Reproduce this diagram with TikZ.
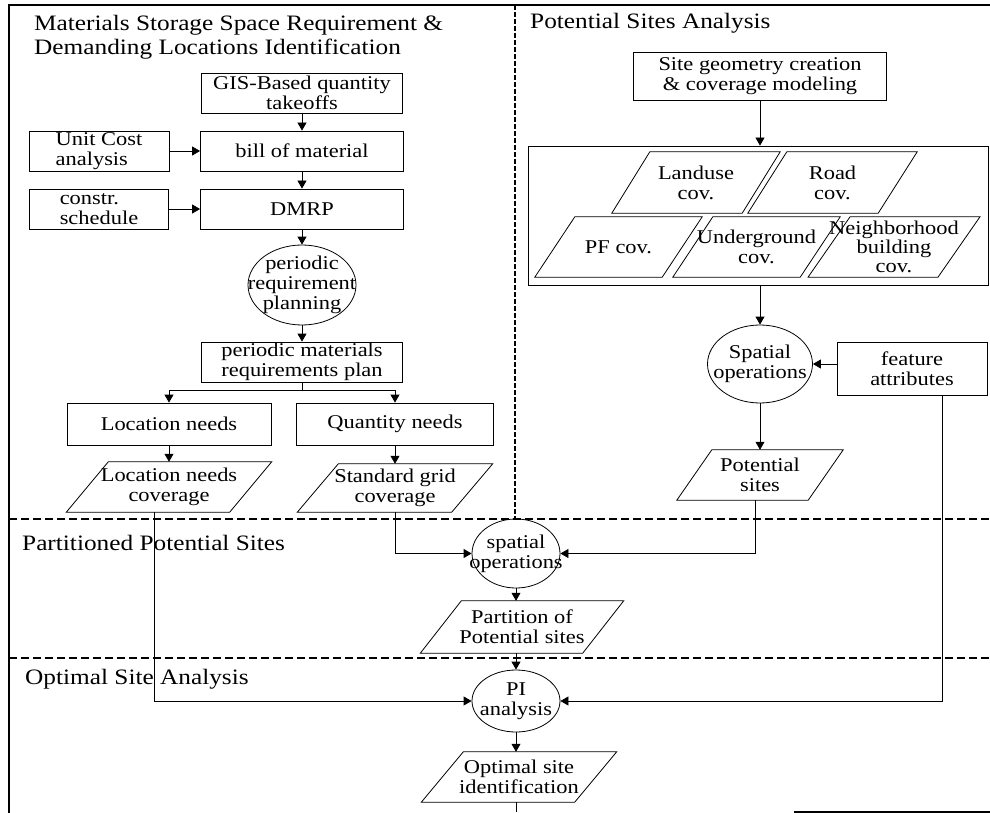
\documentclass[tikz,border=0pt]{standalone}
\usepackage{fontspec}
\setmainfont{Liberation Serif}[FakeStretch=1.15]
\usetikzlibrary{arrows.meta,shapes.geometric,calc}

% parallelogram outline around a (borderless) rectangular node; #2 = slant
\newcommand\slantframe[2]{%
  \draw[line width=0.8pt] ([xshift=#2/2]#1.north west) -- ([xshift=#2/2]#1.north east)
    -- ([xshift=-#2/2]#1.south east) -- ([xshift=-#2/2]#1.south west) -- cycle;}

\begin{document}
\begin{tikzpicture}[x=1pt,y=-1pt,
  every node/.style={font=\fontsize{19.5}{20}\selectfont, inner sep=0pt, align=center},
  box/.style={draw, line width=0.8pt, rectangle},
  oval/.style={draw, line width=0.8pt, ellipse},
  slant/.style={rectangle},
  title/.style={font=\fontsize{22}{24}\selectfont, align=left},
  arr/.style={line width=0.8pt, -{Triangle[width=9pt,length=8pt]}},
  link/.style={line width=0.8pt},
  divider/.style={line width=1.2pt, dash pattern=on 8pt off 4pt},
]
\useasboundingbox (0,0) rectangle (990,813);

% frame and section dividers
\draw[line width=1.5pt] (9,813) -- (9,5) -- (990,5);
\draw[line width=1.2pt] (794,812) -- (990,812);
\draw[divider] (9,519) -- (990,519);
\draw[divider] (9,658) -- (990,658);
\draw[line width=1.2pt, dash pattern=on 5pt off 2pt] (515,5) -- (515,519);

% section titles
\node[title, anchor=north west] (t1) at (34,15) {Materials Storage Space Requirement \&\\Demanding Locations Identification};
\node[title, anchor=base west] (t2) at (530,29) {Potential Sites Analysis};
\node[title, anchor=base west] (t3) at (22,550) {Partitioned Potential Sites};
\node[title, anchor=base west] (t4) at (25,684) {Optimal Site Analysis};

% requirement planning chain
\node[box, minimum width=201, minimum height=40] (gis) at (302,93) {GIS-Based quantity\\takeoffs};
\node[box, minimum width=140, minimum height=40, align=left] (ucost) at (99,151) {Unit Cost\\analysis};
\node[box, minimum width=203, minimum height=40] (bom) at (302,151) {bill of material};
\node[box, minimum width=139, minimum height=40, align=left] (sched) at (99,209) {constr.\\schedule};
\node[box, minimum width=203, minimum height=40] (dmrp) at (302,209) {DMRP};
\node[oval, minimum width=108, minimum height=80,
      label={[align=center]center:periodic\\requirement\\planning}] (prp) at (302,285) {};
\node[box, minimum width=201, minimum height=40] (pmrp) at (302,362) {periodic materials\\requirements plan};
\node[box, minimum width=204, minimum height=42] (locn) at (169,424) {Location needs};
\node[box, minimum width=197, minimum height=42] (qtyn) at (395,424) {Quantity needs};
\node[slant, minimum width=163, minimum height=50] (loccov) at (169,487) {Location needs\\coverage};
\slantframe{loccov}{42}
\node[slant, minimum width=154, minimum height=48] (stdcov) at (395,488) {Standard grid\\coverage};
\slantframe{stdcov}{41}

% potential sites analysis
\node[box, minimum width=253, minimum height=48] (siteg) at (760,76) {Site geometry creation\\\& coverage modeling};
\node[box, minimum width=460, minimum height=139] (covset) at (758,215.5) {};
\node[slant, minimum width=130, minimum height=61] (landuse) at (696,182.5) {Landuse\\cov.};
\slantframe{landuse}{38}
\node[slant, minimum width=130, minimum height=61] (road) at (832.5,182.5) {Road\\cov.};
\slantframe{road}{39}
\node[slant, minimum width=127, minimum height=60] (pfcov) at (618.5,247) {PF cov.};
\slantframe{pfcov}{40}
\node[slant, minimum width=127, minimum height=60] (ugcov) at (756.5,247) {Underground\\cov.};
\slantframe{ugcov}{40}
\node[slant, minimum width=126, minimum height=60, font=\fontsize{19.5}{19}\selectfont] (nbcov) at (894,247) {Neighborhood\\building\\cov.};
\slantframe{nbcov}{42}
\node[oval, minimum width=105, minimum height=78,
      label={[align=center]center:Spatial\\operations}] (spat1) at (760,364) {};
\node[box, minimum width=150, minimum height=53] (feat) at (912,368.5) {feature\\attributes};
\node[slant, minimum width=131, minimum height=50] (potsites) at (760,475) {Potential\\sites};
\slantframe{potsites}{35}

% partition and optimal site analysis
\node[oval, minimum width=88, minimum height=69,
      label={[align=center]center:spatial\\operations}] (spat2) at (516,553.5) {};
\node[slant, minimum width=162, minimum height=52] (part) at (522,627) {Partition of\\Potential sites};
\slantframe{part}{41}
\node[oval, minimum width=88, minimum height=62,
      label={[align=center]center:PI\\analysis}] (pia) at (516,701) {};
\node[slant, minimum width=153, minimum height=50] (optim) at (519,777) {Optimal site\\identification};
\slantframe{optim}{42}
\coordinate (bottomend) at (516,812);

% connectors
\draw[arr] (gis.south) -- (bom.north);
\draw[arr] (ucost.east) -- (bom.west);
\draw[arr] (bom.south) -- (dmrp.north);
\draw[arr] (sched.east) -- (dmrp.west);
\draw[arr] (dmrp.south) -- (prp.north);
\draw[arr] (prp.south) -- (pmrp.north);
\draw[link] (pmrp.south) -- ++(0,8) coordinate (split);
\draw[arr] (split) -| (locn.north);
\draw[arr] (split) -| (qtyn.north);
\draw[arr] (locn.south) -- (loccov.north);
\draw[arr] (qtyn.south) -- (stdcov.north);
\draw[arr] ([xshift=-15]loccov.south) |- (pia.west);
\draw[arr] (stdcov.south) |- (spat2.west);

\draw[arr] (siteg.south) -- (siteg.south |- covset.north);
\draw[arr] (covset.south -| spat1.north) -- (spat1.north);
\draw[arr] (feat.west |- spat1.east) -- (spat1.east);
\draw[arr] (spat1.south) -- (potsites.north);
\draw[arr] ([xshift=-5]potsites.south) |- (spat2.east);
\draw[arr] ([xshift=30]feat.south) |- (pia.east);

\draw[arr] (spat2.south) -- (spat2.south |- part.north);
\draw[arr] (part.south -| pia.north) -- (pia.north);
\draw[arr] (pia.south) -- (pia.south |- optim.north);
\draw[link] (optim.south -| pia.south) -- (bottomend);
\end{tikzpicture}
\end{document}
